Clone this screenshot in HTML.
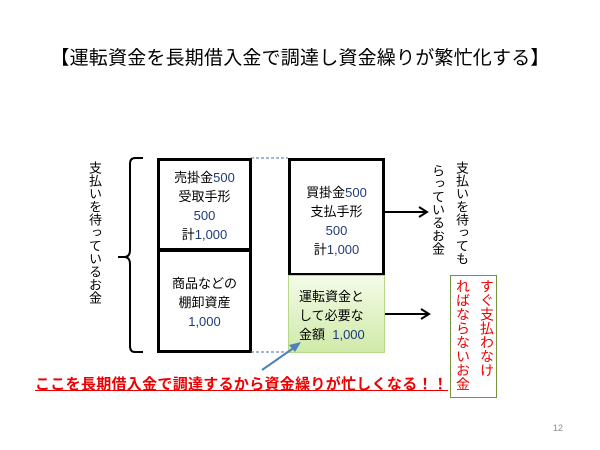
<!DOCTYPE html>
<html><head><meta charset="utf-8"><style>
body{margin:0;width:600px;height:450px;background:#fff;position:relative;overflow:hidden;font-family:"Liberation Sans","Noto Sans CJK JP",sans-serif;}
.a{position:absolute}
.v{position:absolute;writing-mode:vertical-rl;font-size:13px;line-height:24px;letter-spacing:0}
.box{position:absolute;box-sizing:border-box;text-align:center;font-size:13px;line-height:19px}
.n{color:#1f3a7a}
</style></head><body>
<div class="a" style="left:0;top:47px;width:600px;text-align:center;font-size:19px;letter-spacing:0.2px;line-height:24px">【運転資金を長期借入金で調達し資金繰りが繁忙化する】</div>

<div class="v" style="left:82px;top:161px">支払いを待っているお金</div>

<div class="box" style="left:157px;top:158px;width:95px;height:93px;border:3px solid #000;padding-top:7px">売掛金<span class="n">500</span><br>受取手形<br><span class="n">500</span><br>計<span class="n">1,000</span></div>
<div class="box" style="left:157px;top:249px;width:95px;height:104px;border:3px solid #000;padding-top:22px">商品などの<br>棚卸資産<br><span class="n">1,000</span></div>

<div class="box" style="left:288px;top:158px;width:97px;height:118px;border:3px solid #000;padding-top:22px">買掛金<span class="n">500</span><br>支払手形<br><span class="n">500</span><br>計<span class="n">1,000</span></div>
<div class="box" style="left:288px;top:275px;width:97px;height:78px;border:1px solid #b5d88a;background:linear-gradient(#f4fbe8,#cfeaa8);padding:11px 0 0 10px;text-align:left">運転資金と<br>して必要な<br>金額&nbsp;&nbsp;<span class="n">1,000</span></div>

<svg class="a" style="left:0;top:0" width="600" height="450">
<path d="M143,158 H135 Q130,158 130,164 V250 Q130,257 124,257 H118 M124,257 Q130,257 130,264 V346 Q130,352 135,352 H143" fill="none" stroke="#000" stroke-width="2"/>
<line x1="251" y1="158" x2="288" y2="158" stroke="#4a6fa5" stroke-dasharray="3,2"/>
<line x1="251" y1="352" x2="288" y2="352" stroke="#4a6fa5" stroke-dasharray="3,2"/>
<line x1="385" y1="212" x2="426" y2="212" stroke="#000" stroke-width="2"/>
<path d="M419,207 L427,212 L419,217" fill="none" stroke="#000" stroke-width="2"/>
<line x1="385" y1="314" x2="428" y2="314" stroke="#000" stroke-width="2"/>
<path d="M421,309 L429,314 L421,319" fill="none" stroke="#000" stroke-width="2"/>
<line x1="262" y1="370" x2="295" y2="347" stroke="#4f81bd" stroke-width="2"/>
<path d="M301,342 L289,345 L295,352 Z" fill="#4f81bd"/>
</svg>

<div class="v" style="left:449px;top:161px">支払いを待っても</div>
<div class="v" style="left:425px;top:164px">らっているお金</div>

<div class="a" style="left:450px;top:275px;width:47px;height:123px;box-sizing:border-box;border:1px solid #77933c"></div>
<div class="v" style="left:475px;top:279px;color:#e00;font-size:14px">すぐ支払わなけ</div>
<div class="v" style="left:451px;top:279px;color:#e00;font-size:14px">ればならないお金</div>

<div class="a" style="left:35px;top:373px;font-size:15px;color:#e00;text-decoration:underline;font-weight:bold;letter-spacing:0.3px;white-space:nowrap">ここを長期借入金で調達するから資金繰りが忙しくなる！！</div>
<div class="a" style="left:553px;top:423px;font-size:9px;color:#8a8a8a">12</div>
</body></html>
